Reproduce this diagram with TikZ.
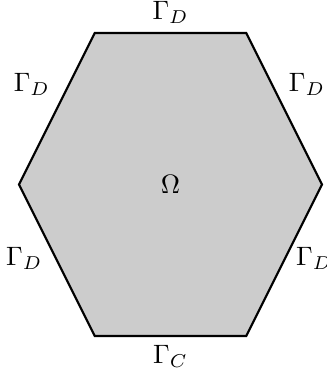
\documentclass[tikz,border=0pt]{standalone}
\usepackage{amsmath,amssymb}
\usepackage{xcolor}
\usepackage{tikz}
\usetikzlibrary{
  positioning,
  calc
}
\definecolor{domaingray}{RGB}{204,204,204}

\begin{document}
\begin{tikzpicture}[
  hexfill/.style={draw,thick,fill=domaingray},
  bdry/.style   ={font=\normalsize},
]
\useasboundingbox (-2.251,-2.502) rectangle (2.066,2.436);

% corners of the hexagon
\coordinate (c1) at ( 2, 0);
\coordinate (c2) at ( 1, 2);
\coordinate (c3) at (-1, 2);
\coordinate (c4) at (-2, 0);
\coordinate (c5) at (-1,-2);
\coordinate (c6) at ( 1,-2);

\draw[hexfill] (c1) -- (c2) -- (c3) -- (c4) -- (c5) -- (c6) -- cycle;
\node (omega) at (0,0) {$\Omega$};

% boundary labels
\node[bdry,above]       (gtop) at ($(c2)!0.5!(c3)$) {$\Gamma_D$};
\node[bdry,above left,xshift=0.03cm,yshift=0.045cm]
                        (gtl)  at ($(c3)!0.5!(c4)$) {$\Gamma_D$};
\node[bdry,above right,xshift=-0.06cm,yshift=0.045cm]
                        (gtr)  at ($(c1)!0.5!(c2)$) {$\Gamma_D$};
\node[bdry,left,xshift=-0.07cm,yshift=0.02cm]
                        (gbl)  at ($(c4)!0.5!(c5)$) {$\Gamma_D$};
\node[bdry,right,xshift=0.035cm,yshift=0.03cm]
                        (gbr)  at ($(c6)!0.5!(c1)$) {$\Gamma_D$};
\node[bdry,below]       (gbot) at ($(c5)!0.5!(c6)$) {$\Gamma_C$};
\end{tikzpicture}
\end{document}
